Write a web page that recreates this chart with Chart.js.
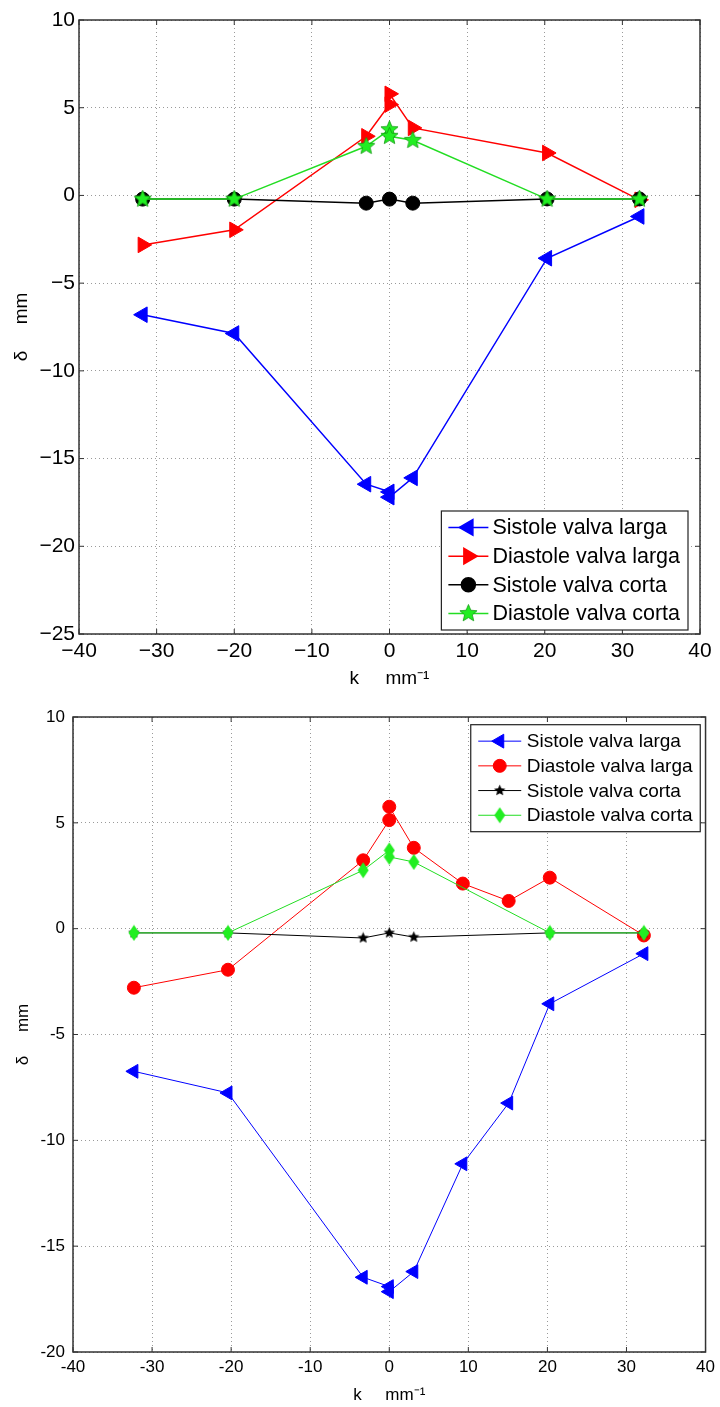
<!DOCTYPE html>
<html>
<head>
<meta charset="utf-8">
<script src="https://cdn.jsdelivr.net/npm/chart.js@4.4.1/dist/chart.umd.min.js"></script>
<style>
  html, body { margin: 0; padding: 0; background: #fff; }
  .box { position: relative; width: 720px; }
</style>
</head>
<body>
<div class="box" style="height:690px"><canvas id="chartTop"></canvas></div>
<div class="box" style="height:717px"><canvas id="chartBottom"></canvas></div>
<script>
// ---- data ----
var seriesLabels = ['Sistole valva larga', 'Diastole valva larga', 'Sistole valva corta', 'Diastole valva corta'];
var xTicks = [-40, -30, -20, -10, 0, 10, 20, 30, 40];

// upper plot
var kTop = [-31.8, -20, -3, 0, 0, 3, 20.3, 32.2];
var kTopSistCorta = [-31.8, -20, -3, 0, 3, 20.3, 32.2];
var topSistLarga = [-6.8, -7.87, -16.46, -16.9, -17.2, -16.1, -3.58, -1.2];
var topDiasLarga = [-2.82, -1.96, 3.37, 5.18, 5.79, 3.85, 2.42, -0.25];
var topSistCorta = [-0.21, -0.21, -0.44, -0.21, -0.44, -0.2, -0.2];
var topDiasCorta = [-0.21, -0.21, 2.8, 3.75, 3.37, 3.14, -0.21, -0.21];
var yTicksTop = [10, 5, 0, -5, -10, -15, -20, -25];

// lower plot
var kBot = [-32.3, -20.4, -3.3, 0, 0, 3.1, 9.3, 15.1, 20.3, 32.2];
var kBotSistCorta = [-32.3, -20.4, -3.3, 0, 3.1, 20.3, 32.2];
var kBotDiasCorta = [-32.3, -20.4, -3.3, 0, 0, 3.1, 20.3, 32.2];
var botSistLarga = [-6.74, -7.76, -16.47, -16.91, -17.15, -16.2, -11.11, -8.24, -3.55, -1.18];
var botDiasLarga = [-2.79, -1.94, 3.23, 5.13, 5.76, 3.82, 2.13, 1.31, 2.41, -0.32];
var botSistCorta = [-0.2, -0.2, -0.44, -0.2, -0.4, -0.2, -0.2];
var botDiasCorta = [-0.2, -0.2, 2.76, 3.7, 3.39, 3.15, -0.2, -0.2];
var yTicksBot = [10, 5, 0, -5, -10, -15, -20];

function pts(ks, vals) {
  return vals.map(function(v, i) { return { x: ks[i], y: v }; });
}

// custom marker images
function starImage(size, fill, stroke) {
  var c = document.createElement('canvas');
  c.width = c.height = size;
  var ctx = c.getContext('2d');
  var cx = size / 2, R = size / 2 - 0.5, r = R * 0.45;
  ctx.beginPath();
  for (var i = 0; i < 10; i++) {
    var a = -Math.PI / 2 + i * Math.PI / 5;
    var rad = i % 2 ? r : R;
    ctx.lineTo(cx + rad * Math.cos(a), cx + rad * Math.sin(a));
  }
  ctx.closePath();
  ctx.fillStyle = fill;
  ctx.fill();
  if (stroke) { ctx.strokeStyle = stroke; ctx.lineWidth = 0.8; ctx.stroke(); }
  return c;
}

function diamondImage(w, h, fill) {
  var c = document.createElement('canvas');
  c.width = w; c.height = h;
  var ctx = c.getContext('2d');
  ctx.beginPath();
  ctx.moveTo(w / 2, 0.5); ctx.lineTo(w - 0.5, h / 2);
  ctx.lineTo(w / 2, h - 0.5); ctx.lineTo(0.5, h / 2);
  ctx.closePath();
  ctx.fillStyle = fill;
  ctx.fill();
  return c;
}

// box around plot area with matlab style inner ticks
var framePlugin = {
  id: 'frame',
  afterDatasetsDraw: function(chart) {
    var a = chart.chartArea, ctx = chart.ctx;
    var o = chart.options.plugins.frame;
    ctx.save();
    ctx.strokeStyle = o.color;
    ctx.lineWidth = o.width;
    ctx.strokeRect(a.left, a.top, a.right - a.left, a.bottom - a.top);
    ctx.lineWidth = 1;
    chart.scales.x.ticks.forEach(function(t) {
      var px = chart.scales.x.getPixelForValue(t.value);
      ctx.beginPath();
      ctx.moveTo(px, a.bottom); ctx.lineTo(px, a.bottom - o.tick);
      ctx.moveTo(px, a.top); ctx.lineTo(px, a.top + o.tick);
      ctx.stroke();
    });
    chart.scales.y.ticks.forEach(function(t) {
      var py = chart.scales.y.getPixelForValue(t.value);
      ctx.beginPath();
      ctx.moveTo(a.left, py); ctx.lineTo(a.left + o.tick, py);
      ctx.moveTo(a.right, py); ctx.lineTo(a.right - o.tick, py);
      ctx.stroke();
    });
    ctx.restore();
  }
};

// legend drawn inside the axes like matlab
var boxLegendPlugin = {
  id: 'boxLegend',
  afterDraw: function(chart) {
    var o = chart.options.plugins.boxLegend;
    var ctx = chart.ctx, a = chart.chartArea;
    var sets = chart.data.datasets;
    ctx.save();
    ctx.font = o.font;
    var maxW = 0;
    sets.forEach(function(ds) { maxW = Math.max(maxW, ctx.measureText(ds.label).width); });
    var w = o.textX + maxW + o.padRight;
    var h = sets.length * o.rowH + o.padV * 2;
    var x0 = a.right - o.right - w;
    var y0 = o.anchor === 'bottom' ? a.bottom - o.bottom - h : a.top + o.top;
    ctx.fillStyle = '#fff';
    ctx.fillRect(x0, y0, w, h);
    ctx.strokeStyle = '#222';
    ctx.lineWidth = 1.2;
    ctx.strokeRect(x0, y0, w, h);
    sets.forEach(function(ds, i) {
      var y = y0 + o.padV + o.rowH * (i + 0.5);
      ctx.strokeStyle = ds.borderColor;
      ctx.lineWidth = ds.borderWidth;
      ctx.beginPath();
      ctx.moveTo(x0 + o.lineX0, y); ctx.lineTo(x0 + o.lineX1, y);
      ctx.stroke();
      ctx.fillStyle = ds.pointBackgroundColor;
      ctx.strokeStyle = ds.pointBorderColor;
      Chart.helpers.drawPoint(ctx, {
        pointStyle: ds.pointStyle, radius: ds.pointRadius,
        rotation: ds.pointRotation || 0, borderWidth: ds.pointBorderWidth
      }, x0 + (o.lineX0 + o.lineX1) / 2, y);
      ctx.fillStyle = '#000';
      ctx.textBaseline = 'middle';
      ctx.textAlign = 'left';
      ctx.fillText(ds.label, x0 + o.textX, y + 1);
    });
    ctx.restore();
  }
};

function series(label, data, color, style, radius, rot, lw, order) {
  return {
    label: label, data: data, borderColor: color, borderWidth: lw,
    pointStyle: style, pointRadius: radius, pointRotation: rot,
    pointBackgroundColor: color, pointBorderColor: color, pointBorderWidth: 1,
    pointHoverRadius: radius, showLine: true, fill: false, tension: 0, order: order
  };
}

function makeOptions(cfg) {
  return {
    responsive: true, maintainAspectRatio: false, animation: false,
    devicePixelRatio: 1,
    layout: { padding: cfg.padding },
    plugins: {
      legend: { display: false }, tooltip: { enabled: false },
      frame: { color: '#333', width: 1.5, tick: 5 },
      boxLegend: cfg.legend
    },
    scales: {
      x: {
        type: 'linear', min: -40, max: 40,
        afterBuildTicks: function(s) { s.ticks = xTicks.map(function(v) { return { value: v }; }); },
        afterFit: function(s) { s.height = cfg.xHeight; },
        ticks: { color: '#000', font: cfg.tickFont, padding: cfg.xPad, maxRotation: 0, autoSkip: false, callback: cfg.fmt },
        grid: { color: '#9a9a9a', drawTicks: false, lineWidth: 1 },
        border: { display: false, dash: [1, 3] },
        title: { display: true, text: 'k     mm\u207B\u00B9', color: '#000', font: cfg.titleFont, padding: { top: 0, bottom: cfg.xTitlePad } }
      },
      y: {
        type: 'linear', min: cfg.yMin, max: 10,
        afterBuildTicks: function(s) { s.ticks = cfg.yTicks.map(function(v) { return { value: v }; }); },
        afterFit: function(s) { s.width = cfg.yWidth; },
        ticks: { color: '#000', font: cfg.tickFont, padding: cfg.yPad, autoSkip: false, callback: cfg.fmt },
        grid: { color: '#9a9a9a', drawTicks: false, lineWidth: 1 },
        border: { display: false, dash: [1, 3] },
        title: { display: true, text: '\u03B4     mm', color: '#000', font: cfg.titleFont, padding: { top: cfg.yTitlePad, bottom: 0 } }
      }
    }
  };
}

var starGreenBig = starImage(19, '#22ee22', '#119911');
var starBlackSmall = starImage(13, '#000', null);
var diamondGreen = diamondImage(12, 17, '#22ee22');

new Chart(document.getElementById('chartTop'), {
  type: 'scatter',
  data: {
    datasets: [
      series(seriesLabels[0], pts(kTop, topSistLarga), '#0000ff', 'triangle', 9, -90, 1.5, 3),
      series(seriesLabels[1], pts(kTop, topDiasLarga), '#ff0000', 'triangle', 9, 90, 1.5, 2),
      series(seriesLabels[2], pts(kTopSistCorta, topSistCorta), '#000000', 'circle', 7, 0, 1.5, 1),
      series(seriesLabels[3], pts(kTop, topDiasCorta), '#22dd22', starGreenBig, 9, 0, 1.5, 0)
    ]
  },
  options: makeOptions({
    padding: { left: 0, right: 20, top: 20, bottom: 0 },
    xHeight: 56, yWidth: 79, xPad: 4.4, yPad: 4, xTitlePad: 1.5, yTitlePad: 12.5,
    yMin: -25, yTicks: yTicksTop,
    tickFont: { family: 'Liberation Sans, Arial, sans-serif', size: 21 },
    titleFont: { family: 'Liberation Sans, Arial, sans-serif', size: 19, lineHeight: 1 },
    fmt: function(v) { return String(v).replace('-', '\u2212'); },
    legend: { anchor: 'bottom', right: 12, bottom: 4, font: '21.5px "Liberation Sans", Arial, sans-serif',
              rowH: 28.7, padV: 2.1, lineX0: 7, lineX1: 47, textX: 51, padRight: 8 }
  }),
  plugins: [framePlugin, boxLegendPlugin]
});

new Chart(document.getElementById('chartBottom'), {
  type: 'scatter',
  data: {
    datasets: [
      series(seriesLabels[0], pts(kBot, botSistLarga), '#0000ff', 'triangle', 8, -90, 1, 3),
      series(seriesLabels[1], pts(kBot, botDiasLarga), '#ff0000', 'circle', 6.5, 0, 1, 2),
      series(seriesLabels[2], pts(kBotSistCorta, botSistCorta), '#000000', starBlackSmall, 6, 0, 1, 1),
      series(seriesLabels[3], pts(kBotDiasCorta, botDiasCorta), '#22dd22', diamondGreen, 7, 0, 1, 0)
    ]
  },
  options: makeOptions({
    padding: { left: 0, right: 10, top: 27, bottom: 0 },
    xHeight: 55, yWidth: 73, xPad: 5, yPad: 8, xTitlePad: 3.5, yTitlePad: 14.5,
    yMin: -20, yTicks: yTicksBot,
    tickFont: { family: 'Liberation Sans, Arial, sans-serif', size: 17 },
    titleFont: { family: 'Liberation Sans, Arial, sans-serif', size: 17, lineHeight: 1 },
    fmt: function(v) { return String(v); },
    legend: { anchor: 'top', right: 5.3, top: 7.7, font: '19px "Liberation Sans", Arial, sans-serif',
              rowH: 24.7, padV: 4.1, lineX0: 7.5, lineX1: 50.5, textX: 56, padRight: 7.7 }
  }),
  plugins: [framePlugin, boxLegendPlugin]
});
</script>
</body>
</html>
